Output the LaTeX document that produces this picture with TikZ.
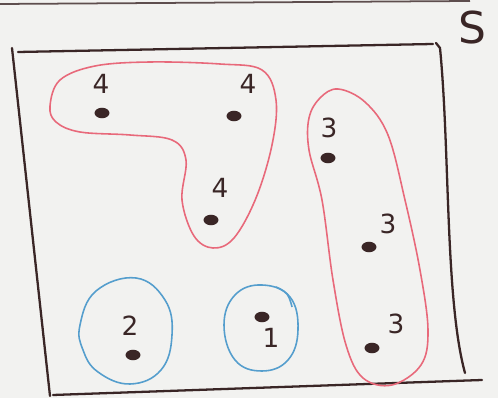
\documentclass[tikz,border=0pt]{standalone}
\usepackage{fontspec}
\setsansfont{DejaVu Sans}
\definecolor{ink}{RGB}{58,38,38}
\definecolor{redpen}{RGB}{232,105,122}
\definecolor{bluepen}{RGB}{85,158,205}
\definecolor{paper}{RGB}{242,242,240}
\tikzset{
  pt/.style={ellipse,fill=ink,inner sep=0pt,minimum width=8.5pt,minimum height=6pt},
  lbl/.style={text=ink,inner sep=0pt,font=\sffamily\fontsize{15}{15}\selectfont},
  redline/.style={draw=redpen,line width=0.9pt},
  blueline/.style={draw=bluepen,line width=0.9pt},
  frame/.style={draw=ink,line width=1.3pt,line cap=round},
}
\usetikzlibrary{shapes.geometric}
\begin{document}
\begin{tikzpicture}[x=0.02cm,y=-0.02cm]
  \fill[paper] (0,0) rectangle (498,398);
  \useasboundingbox (0,0) rectangle (498,398);
  % paper edge
  \draw[ink,line width=1pt,opacity=0.8] (0,4) -- (470,1);
  % the set S
  \draw[frame] (18,52) -- (433,44);
  \draw[frame] (12,48) -- (50,396);
  \draw[frame] (53,395) -- (482,380);
  \draw[frame] (436,43) -- (440,48) .. controls (450,150) and (445,300) .. (465,373);
  \node[text=ink,font=\sffamily\fontsize{25}{25}\selectfont] (s) at (472,28) {S};
  % points
  \node[pt] (p4a) at (102,113) {};
  \node[pt] (p4b) at (234,116) {};
  \node[pt] (p4c) at (211,220) {};
  \node[pt] (p3a) at (328,158) {};
  \node[pt] (p3b) at (369,247) {};
  \node[pt] (p3c) at (372,348) {};
  \node[pt] (p2) at (133,355) {};
  \node[pt] (p1) at (262,317) {};
  \node[lbl] (l4a) at (101,84) {4};
  \node[lbl] (l4b) at (248,84) {4};
  \node[lbl] (l4c) at (220,188) {4};
  \node[lbl] (l3a) at (329,128) {3};
  \node[lbl] (l3b) at (388,224) {3};
  \node[lbl] (l3c) at (396,324) {3};
  \node[lbl] (l2) at (130,326) {2};
  \node[lbl] (l1) at (271,338) {1};
  % red classes
  \draw[redline] plot[smooth cycle,tension=0.6] coordinates {
    (50,106) (60,80) (95,66) (150,62) (220,64) (262,70) (276,100)
    (272,145) (256,198) (234,238) (213,248) (194,236) (182,200)
    (186,160) (172,140) (130,135) (80,132) (56,122)};
  \draw[redline] plot[smooth cycle,tension=0.6] coordinates {
    (338,89) (365,102) (388,135) (405,200) (420,270) (428,330)
    (421,365) (392,385) (363,378) (346,345) (333,280) (322,200)
    (309,150) (309,118) (320,98)};
  % blue classes
  \draw[blueline] plot[smooth cycle,tension=0.7] coordinates {
    (80,325) (96,291) (136,278) (165,300) (172,335) (161,370)
    (130,384) (98,372) (83,350)};
  \draw[blueline] plot[smooth cycle,tension=0.7] coordinates {
    (224,325) (235,295) (262,285) (290,297) (298,330) (288,360)
    (262,371) (235,360)};
  \draw[blueline] plot[smooth,tension=0.7] coordinates {(276,287) (287,294) (292,307)};
\end{tikzpicture}
\end{document}
